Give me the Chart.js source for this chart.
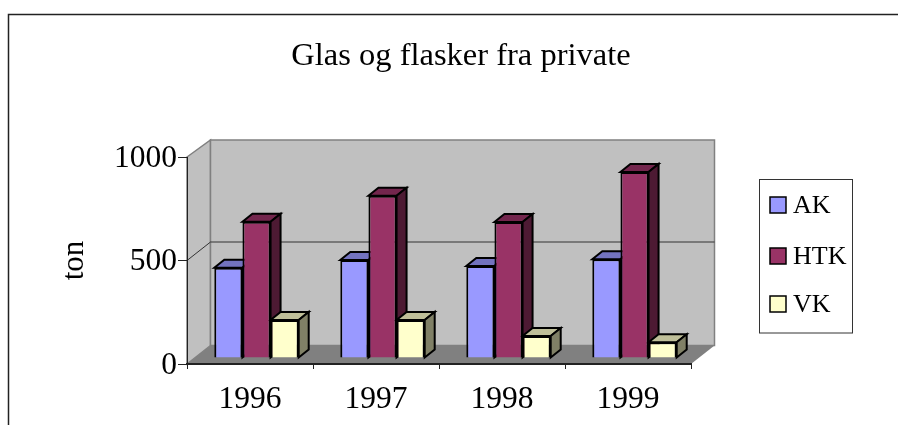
<!DOCTYPE html>
<html>
<head>
<meta charset="utf-8">
<style>
html, body { margin: 0; padding: 0; background: #fff; overflow: hidden; width: 898px; height: 425px; }
canvas { display: block; }
</style>
<script src="https://cdn.jsdelivr.net/npm/chart.js@4"></script>
</head>
<body>
<canvas id="chart-bar" width="922" height="425"></canvas>
<script>
const years = ['1996', '1997', '1998', '1999'];
const ak = [436, 473, 444, 477];
const htk = [658, 784, 657, 899];
const vk = [184, 184, 106, 76];
const yTicks = [0, 500, 1000];

const serif = '"Liberation Serif", "Times New Roman", serif';

// depth of the back wall, and where the bars stand on the floor
const wallDx = 23.5, wallDy = -18.5, wallTopDy = -17;
const barDx = 6.5, barDy = -6;
const boxDx = 10, boxDy = -8;

function poly(ctx, pts, fill, stroke, lw) {
	ctx.beginPath();
	pts.forEach((p, i) => (i ? ctx.lineTo(p[0], p[1]) : ctx.moveTo(p[0], p[1])));
	ctx.closePath();
	if (fill) {
		ctx.fillStyle = fill;
		ctx.fill();
	}
	if (stroke) {
		ctx.strokeStyle = stroke;
		ctx.lineWidth = lw;
		ctx.stroke();
	}
}

function drawLegend(chart) {
	const { ctx } = chart;
	ctx.save();
	ctx.strokeStyle = '#333';
	ctx.lineWidth = 1;
	ctx.strokeRect(759.5, 179.5, 93, 153.5);
	const rows = [205, 256, 304];
	ctx.font = '26px ' + serif;
	ctx.textBaseline = 'middle';
	chart.data.datasets.forEach((ds, i) => {
		ctx.fillStyle = ds.backgroundColor;
		ctx.strokeStyle = '#000';
		ctx.lineWidth = 1.5;
		ctx.fillRect(770, rows[i] - 8, 16, 16);
		ctx.strokeRect(770, rows[i] - 8, 16, 16);
		ctx.fillStyle = '#000';
		ctx.fillText(ds.label, 793, rows[i] + 1);
	});
	ctx.restore();
}

const walls = {
	id: 'walls',
	// reserves the room right of the plot and paints the legend there
	beforeInit(chart) {
		Chart.layouts.addBox(chart, {
			position: 'right',
			weight: 0,
			fullSize: false,
			options: {},
			isHorizontal: () => false,
			update(maxWidth, maxHeight) {
				this.width = 175;
				this.height = maxHeight;
			},
			draw() {
				drawLegend(chart);
			},
		});
	},
	// Outer frame, walls and floor go under everything
	beforeDraw(chart) {
		const { ctx, chartArea: a, scales } = chart;
		ctx.save();
		ctx.strokeStyle = '#222';
		ctx.lineWidth = 1.5;
		ctx.strokeRect(8.5, 14.5, 1000, 1000);

		const backL = a.left + wallDx, backR = a.right + wallDx;
		const backT = a.top + wallTopDy, backB = a.bottom + wallDy;
		poly(ctx, [[a.left, a.top], [backL, backT], [backL, backB], [a.left, a.bottom]], '#c0c0c0', '#808080', 1.5);
		poly(ctx, [[backL, backT], [backR, backT], [backR, backB], [backL, backB]], '#c0c0c0', '#808080', 1.5);
		poly(ctx, [[a.left, a.bottom], [backL, backB], [backR, backB], [a.right, a.bottom]], '#808080', null, 0);

		// middle gridlines, round the corner
		yTicks.slice(1, -1).forEach((v) => {
			const y = scales.y.getPixelForValue(v);
			ctx.beginPath();
			ctx.moveTo(a.left, y);
			ctx.lineTo(backL, y + wallDy);
			ctx.lineTo(backR, y + wallDy);
			ctx.strokeStyle = '#333';
			ctx.lineWidth = 1;
			ctx.stroke();
		});
		ctx.restore();
	},
	// bars sit a little behind the front edge of the floor
	beforeDatasetsDraw(chart) {
		const { ctx } = chart;
		ctx.save();
		ctx.translate(barDx, barDy);
		chart.data.datasets.forEach((ds, i) => {
			chart.getDatasetMeta(i).data.forEach((bar) => {
				const l = bar.x - bar.width / 2, r = bar.x + bar.width / 2, t = bar.y, b = bar.base;
				poly(ctx, [[l, t], [l + boxDx, t + boxDy], [r + boxDx, t + boxDy], [r, t]], ds.topColor, '#000', 2);
				poly(ctx, [[r, t], [r + boxDx, t + boxDy], [r + boxDx, b + boxDy], [r, b]], ds.sideColor, '#000', 2);
			});
		});
	},
	afterDatasetsDraw(chart) {
		chart.ctx.restore();
	},
};

const ctx = document.getElementById('chart-bar');

new Chart(ctx, {
	type: 'bar',
	data: {
		labels: years,
		datasets: [
			{ label: 'AK', data: ak, backgroundColor: '#9999ff', topColor: '#7373bf', sideColor: '#4d4d80' },
			{ label: 'HTK', data: htk, backgroundColor: '#993366', topColor: '#73264d', sideColor: '#4d1a33' },
			{ label: 'VK', data: vk, backgroundColor: '#ffffcc', topColor: '#bfbf99', sideColor: '#808066' },
		],
	},
	options: {
		responsive: false,
		animation: false,
		categoryPercentage: 0.67,
		barPercentage: 1,
		layout: { padding: { left: 56, right: 56, top: 0, bottom: 0 } },
		datasets: { bar: { borderColor: '#000', borderWidth: 2 } },
		scales: {
			x: {
				grid: { drawOnChartArea: false, color: '#222', tickLength: 5, offset: true },
				border: { color: '#222', width: 2 },
				ticks: { color: '#000', font: { family: serif, size: 31.5 }, padding: 12, maxRotation: 0 },
				afterFit(scale) {
					scale.height = 61;
				},
			},
			y: {
				min: 0,
				max: 1000,
				grid: { drawOnChartArea: false, color: '#222', tickLength: 9 },
				border: { color: '#222', width: 1 },
				afterBuildTicks(scale) {
					scale.ticks = yTicks.map((value) => ({ value }));
				},
				ticks: {
					color: '#000',
					font: { family: serif, size: 31.5 },
					padding: 1,
					labelOffset: 1.5,
					callback: (value) => String(value),
				},
				title: { display: true, text: 'ton', color: '#000', font: { family: serif, size: 31 }, padding: 0 },
				afterFit(scale) {
					scale.width = 131;
				},
			},
		},
		plugins: {
			legend: { display: false },
			tooltip: { enabled: false },
			title: {
				display: true,
				text: 'Glas og flasker fra private',
				color: '#000',
				font: { family: serif, size: 32.5, weight: 'normal' },
				padding: { top: 37, bottom: 81 },
			},
		},
	},
	plugins: [walls],
});
</script>
</body>
</html>
